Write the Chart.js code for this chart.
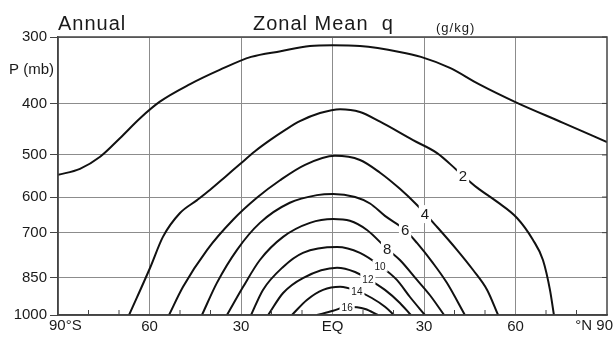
<!DOCTYPE html>
<html lang="en">
<head>
<meta charset="UTF-8">
<title>Annual Zonal Mean q</title>
<script src="https://cdn.jsdelivr.net/npm/chart.js"></script>
<style>
  body { margin: 0; background: #fff; }
  canvas { display: block; }
</style>
</head>
<body>
<canvas id="chart" width="616" height="346"></canvas>
<script>
  // axis ticks
  const pressureTicks = [300, 400, 500, 600, 700, 850, 1000];
  const latTickValues = [-90, -60, -30, 0, 30, 60, 90];
  const latTickLabels = ['90°S', '60', '30', 'EQ', '30', '60', '°N 90'];

  // contours (latitude, pressure in mb)
  const latTop = [-90, -82.8, -76.2, -69.7, -63, -56.6, -46.7, -37, -26.7, -17, -7.4, 0, 9, 22, 29, 38.5, 48, 60.5, 75.6, 90];
  const pTop   = [545, 531, 504, 465, 426, 397, 368, 346, 327, 319, 312, 311, 312, 320, 327, 343, 368, 399, 435, 473];

  const lat2 = [-66.7, -59.8, -55.6, -50, -44.4, -40.2, -35.2, -30.3, -25.4, -20.5, -15.6, -10.7, -4.1, 2.5, 9, 15.6, 26.4, 34.3, 40.8, 47.4, 53.9, 60.5, 65.7, 69, 71.3, 72.6];
  const p2   = [1000, 815, 713, 643, 608, 582, 550, 520, 492, 469, 449, 432, 417, 410, 415, 433, 469, 496, 534, 576, 612, 657, 722, 788, 897, 1000];

  const lat4 = [-53.6, -49, -41.1, -32.6, -24.8, -17.2, -9, 0.8, 9, 15.6, 22.1, 27.7, 34.3, 40.8, 46.1, 50.7, 54.3];
  const p4   = [1000, 885, 754, 662, 602, 558, 522, 502, 511, 540, 579, 621, 683, 754, 823, 897, 1000];

  const lat6 = [-42.8, -37.9, -31.3, -23.8, -14, -5.1, 0.2, 7.4, 12.3, 17.2, 23.8, 27.7, 32.9, 37.5, 43.4];
  const p6   = [1000, 870, 754, 671, 615, 595, 592, 600, 617, 651, 692, 732, 798, 870, 1000];

  const lat8 = [-34.6, -29.3, -23.8, -16.2, -7.4, 0.2, 5.7, 11.3, 17.9, 22.1, 27.7, 31.9, 36.6];
  const p8   = [1000, 885, 788, 713, 671, 660, 665, 692, 751, 788, 859, 917, 1000];

  const lat10 = [-26.7, -22.8, -16.2, -9.7, 1.5, 9, 15.6, 21.1, 25.4, 30.3];
  const p10   = [1000, 897, 812, 764, 745, 764, 808, 859, 925, 1000];

  const lat12 = [-21.1, -16.2, -9.7, 1.5, 7.4, 11.6, 17.2, 22.1, 25.7];
  const p12   = [1000, 909, 852, 815, 830, 855, 897, 949, 1000];

  const lat14 = [-13.3, -8.4, -3.1, 2.5, 8, 12.9, 17.2, 20.2];
  const p14   = [1000, 937, 897, 885, 901, 929, 965, 1000];

  const lat16 = [-5.1, 0.2, 4.8, 10.7, 14.9];
  const p16   = [1000, 982, 965, 974, 1000];

  // contour labels
  const labelText = ['2', '4', '6', '8', '10', '12', '14', '16'];
  const labelLat  = [42.8, 30.3, 23.8, 17.9, 15.6, 11.6, 8, 4.8];
  const labelP    = [547, 646, 692, 751, 808, 855, 901, 965];

  const contours = [
    [latTop, pTop], [lat2, p2], [lat4, p4], [lat6, p6], [lat8, p8],
    [lat10, p10], [lat12, p12], [lat14, p14], [lat16, p16]
  ];

  const FONT = '"Liberation Sans", Arial, Helvetica, sans-serif';
  const INK = '#1a1a1a';

  Chart.defaults.font.family = FONT;
  Chart.defaults.font.size = 15;
  Chart.defaults.color = INK;

  const datasets = contours.map(([lats, ps]) => ({
    data: lats.map((v, i) => ({ x: v, y: ps[i] })),
    showLine: true,
    borderColor: '#111',
    borderWidth: 2,
    pointRadius: 0,
    cubicInterpolationMode: 'monotone',
    fill: false
  }));

  // frame, inner ticks, contour labels and titles
  const decor = {
    id: 'decor',
    afterDatasetsDraw(chart) {
      const { ctx, chartArea: a } = chart;
      const xs = chart.scales.x, ys = chart.scales.y;
      ctx.save();

      ctx.strokeStyle = '#444';
      ctx.lineWidth = 1.5;
      ctx.strokeRect(a.left, a.top, a.right - a.left, a.bottom - a.top);

      ctx.lineWidth = 1;
      ctx.beginPath();
      xs.ticks.forEach(t => {
        if (t.value % 30 !== 0) {
          const px = xs.getPixelForValue(t.value);
          ctx.moveTo(px, a.bottom);
          ctx.lineTo(px, a.bottom - 5);
        }
      });
      pressureTicks.forEach(v => {
        const py = ys.getPixelForValue(v);
        ctx.moveTo(a.right, py);
        ctx.lineTo(a.right - 5, py);
      });
      ctx.stroke();

      ctx.textAlign = 'center';
      ctx.textBaseline = 'middle';
      labelText.forEach((t, i) => {
        const px = xs.getPixelForValue(labelLat[i]);
        const py = ys.getPixelForValue(labelP[i]);
        const size = t.length > 1 ? 10 : 15;
        ctx.font = size + 'px ' + FONT;
        const w = ctx.measureText(t).width + 4;
        ctx.fillStyle = '#fff';
        ctx.fillRect(px - w / 2, py - size * 0.6, w, size * 1.2);
        ctx.fillStyle = INK;
        ctx.fillText(t, px, py + 1);
      });

      // end latitude labels sit inside the axis ends
      ctx.textBaseline = 'top';
      ctx.font = '15px ' + FONT;
      ctx.textAlign = 'left';
      ctx.fillText(latTickLabels[0], xs.getPixelForValue(-90) - 9, a.bottom + 3);
      ctx.textAlign = 'right';
      ctx.fillText(latTickLabels[latTickLabels.length - 1], xs.getPixelForValue(90) + 6, a.bottom + 3);

      ctx.textAlign = 'left';
      ctx.textBaseline = 'alphabetic';
      ctx.letterSpacing = '1px';
      ctx.font = '20px ' + FONT;
      ctx.fillText('Annual', 58, 30);
      ctx.fillText('Zonal Mean  q', 253, 30);
      ctx.font = '13px ' + FONT;
      ctx.fillText('(g/kg)', 436, 32);
      ctx.letterSpacing = '0px';
      ctx.font = '15px ' + FONT;
      ctx.fillText('P (mb)', 9, 74);

      ctx.restore();
    }
  };

  new Chart(document.getElementById('chart'), {
    type: 'scatter',
    data: { datasets },
    plugins: [decor],
    options: {
      responsive: false,
      animation: false,
      layout: { padding: { top: 37, right: 9, left: 0, bottom: 0 } },
      plugins: { legend: { display: false }, tooltip: { enabled: false } },
      scales: {
        x: {
          type: 'linear',
          min: -90,
          max: 90,
          afterFit: s => { s.height = 31; },
          ticks: {
            stepSize: 10,
            autoSkip: false,
            maxRotation: 0,
            padding: 3,
            callback: v => {
              const i = latTickValues.indexOf(v);
              return (i < 0 || Math.abs(v) === 90) ? '' : latTickLabels[i];
            }
          },
          grid: {
            drawTicks: false,
            color: c => (c.tick && c.tick.value % 30 === 0 && Math.abs(c.tick.value) !== 90) ? '#8c8c8c' : 'rgba(0,0,0,0)'
          },
          border: { display: true, color: '#444', width: 1.5 }
        },
        y: {
          type: 'logarithmic',
          reverse: true,
          min: 300,
          max: 1000,
          afterFit: s => { s.width = 58; },
          afterBuildTicks: s => { s.ticks = pressureTicks.map(v => ({ value: v })); },
          ticks: {
            padding: 3,
            callback: v => String(v)
          },
          grid: {
            color: '#8c8c8c',
            tickColor: '#444',
            tickLength: 8
          },
          border: { display: true, color: '#444', width: 1.5 }
        }
      }
    }
  });
</script>
</body>
</html>
